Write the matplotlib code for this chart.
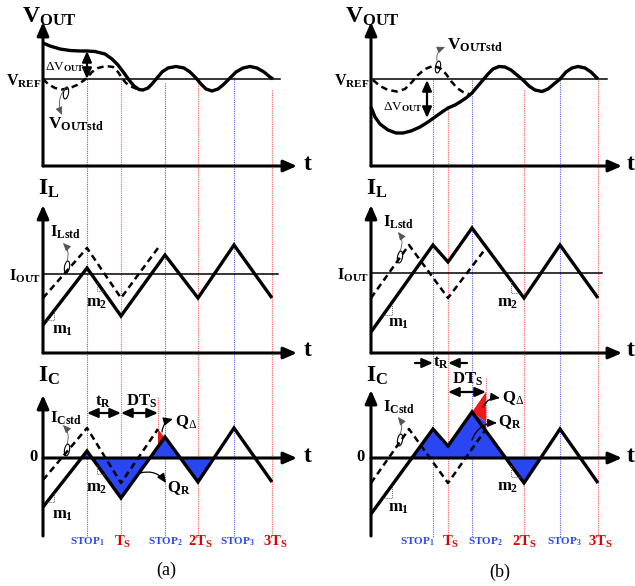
import matplotlib.pyplot as plt
from matplotlib.patches import Ellipse, Polygon

plt.rcParams['font.family'] = ['Liberation Serif', 'DejaVu Serif']
plt.rcParams['mathtext.fontset'] = 'custom'
plt.rcParams['mathtext.rm'] = 'Liberation Serif'
plt.rcParams['mathtext.bf'] = 'Liberation Serif:bold'
plt.rcParams['mathtext.it'] = 'Liberation Serif:italic'

# ---- data (time = px right of the y axis, level = px above baseline)
# (a)
va_t = [0, 7, 17, 27, 37, 44, 52, 62, 69, 75, 81, 86, 91, 96, 100, 105, 109, 114, 119, 125,
        133, 141, 147, 153, 158, 163, 169, 175, 180, 187, 193, 200, 207, 214, 221, 227, 230]
va_v = [123, 120, 117, 115.5, 115, 115, 114.5, 112, 107, 101, 93, 86, 80, 76.5, 76, 78, 82, 88, 94, 98,
        99.5, 98, 94, 88, 82, 77, 75, 77, 81, 88, 94, 98, 99.5, 98, 94, 89, 87]
va_std_t = [0, 5, 12, 19, 27, 34, 40, 44, 49, 55, 63, 70, 75, 79, 83, 88, 94]
va_std_v = [87, 82, 78, 76.5, 78, 81, 85, 88, 94, 98, 100, 99, 94, 88, 83, 79.5, 77]
ta = [0, 44, 78, 122, 155, 191, 229]
il_a = [28, 85, 37, 98, 55, 108, 55]
ic_a = [-49, 7, -40, 21, -24, 30, -24]
ta_std = [0, 44, 78, 115]
il_std_a = [55, 105, 55, 105]
ic_std_a = [-22, 30, -25, 29]

# (b)
vb_t = [0, 4, 9, 17, 25, 32, 40, 49, 57, 64, 71, 77, 84, 89, 95, 101, 106, 112, 117, 122,
        128, 134, 140, 146, 152, 158, 164, 171, 177, 183, 189, 195, 201, 207, 214, 220, 225, 227]
vb_v = [59, 49, 42, 36, 33, 33, 35, 39, 44, 49, 54, 58, 61, 64, 68, 73, 79, 86, 92, 97,
        99.5, 99, 96, 91, 86, 80, 76, 74.5, 77, 82, 87, 94, 98, 99.5, 98, 94, 89, 87]
vb_std_t = [2, 9, 17, 26, 34, 41, 47, 54, 62, 69, 75, 80, 86, 92, 99]
vb_std_v = [86, 80, 76, 74.5, 77, 84, 91, 97, 100, 98, 92, 85, 78, 74, 71.5]
tb = [0, 62, 77, 101, 153, 189, 227]
il_b = [21, 108, 91, 125, 55, 108, 55]
ic_b = [-56, 29, 12, 46, -25, 29, -25]
tb_std = [0, 38, 77, 115]
il_std_b = [55, 108, 55, 105]
ic_std_b = [-25, 29, -25, 29]

vref = 87
iout_a, iout_b = 79, 80
dts_a, dts_b = 115, 115

tick_names = [r'$\mathbf{STOP}_{\mathbf{1}}$', r'$\mathbf{T}_{\mathbf{S}}$',
              r'$\mathbf{STOP}_{\mathbf{2}}$', r'$\mathbf{2T}_{\mathbf{S}}$',
              r'$\mathbf{STOP}_{\mathbf{3}}$', r'$\mathbf{3T}_{\mathbf{S}}$']
tick_x_a = [44, 80, 122, 157, 194, 232]
tick_x_b = [46, 80, 114, 153, 193, 229]
line_top_a = [379, 379, 375, 375, 381, 368]
line_top_b = [378, 351, 378, 368, 378, 378]

BLUE = '#2a46f2'
RED = '#f01818'
LBLUE = '#5a5aff'
LRED = '#ff5a5a'

W, H = 635, 586
fig = plt.figure(figsize=(W / 100, H / 100), dpi=100)


def panel(x0, base):
    ax = fig.add_axes([0, 0, 1, 1])
    ax.set_xlim(-x0, W - x0)
    ax.set_ylim(base - H, base)
    ax.axis('off')
    ax.patch.set_alpha(0)
    return ax


def arrow(ax, x1, y1, x2, y2, style='-|>', lw=2.2, ms=10, hl=0.8, hw=0.35, rad=0.0, color='k'):
    ax.annotate('', xy=(x2, y2), xytext=(x1, y1),
                arrowprops=dict(arrowstyle=f'{style},head_length={hl},head_width={hw}',
                                lw=lw, color=color, shrinkA=0, shrinkB=0, mutation_scale=ms,
                                connectionstyle=f'arc3,rad={rad}'))


def lab(ax, x, y, s, size, ha='left', color='k', weight='bold'):
    ax.text(x, y, s, fontsize=size, ha=ha, va='center', color=color, fontweight=weight)


def solid(ax, xs, ys):
    ax.plot(xs, ys, color='k', lw=2.4, solid_joinstyle='miter', solid_capstyle='butt')


def dashed(ax, xs, ys):
    ax.plot(xs, ys, color='k', lw=1.8, ls=(0, (2.6, 1.7)))


def slope_mark(ax, x1, x2, y1, y2):
    ax.plot([x1, x2, x2], [y1, y1, y2], color='#666666', lw=0.7, ls=(0, (1, 1)))


def std_tag(ax, ex, ey, tx, ty, rad):
    ax.add_patch(Ellipse((ex, ey), 5, 12, angle=-10, fc='none', ec='k', lw=0.8))
    arrow(ax, ex, ey + 6, tx, ty, lw=0.6, ms=6, hl=0.8, hw=0.35, rad=rad, color='#555555')


# ---- background: the STOP / Ts marker lines
for x0, tx, tops, dts in [(43, ta, line_top_a, dts_a), (371, tb, line_top_b, dts_b)]:
    bg = panel(x0, 458)
    for i, x in enumerate(tx[1:]):
        bg.plot([x, x], [tops[i], -79], color=LBLUE if i % 2 == 0 else LRED, lw=0.8, ls=(0, (1, 1)))

# ================= (a) =================
ax = panel(43, 166)
ax.plot([0, 237], [vref, vref], color='k', lw=1.1)
arrow(ax, 0, 0, 0, 144)
arrow(ax, 0, 0, 254, 0)
solid(ax, va_t, va_v)
dashed(ax, va_std_t, va_std_v)
arrow(ax, 44, vref, 44, 115, style='<|-|>', lw=1.6, ms=8)
lab(ax, -21, 149, r'$\mathbf{V}_{\mathbf{OUT}}$', 17)
lab(ax, -1, 85, r'$\mathbf{V}_{\mathbf{REF}}$', 11.5, ha='right')
lab(ax, 260, 2, r'$\mathbf{t}$', 17)
lab(ax, 42, 99, r'$\Delta\mathrm{V}_{\mathbf{OUT}}$', 9.5, ha='right')
lab(ax, 5, 42, r'$\mathbf{V}_{\mathbf{OUTstd}}$', 12.5)
std_tag(ax, 23, 73, 19, 51, 0.3)

ax = panel(43, 353)
ax.plot([0, 235], [iout_a, iout_a], color='k', lw=1.1)
arrow(ax, 0, 0, 0, 148)
arrow(ax, 0, 0, 254, 0)
dashed(ax, ta_std, il_std_a)
solid(ax, ta, il_a)
slope_mark(ax, 4, 11, 33, 42)
slope_mark(ax, 60, 54, 62, 71)
lab(ax, -5, 164, r'$\mathbf{I}_{\mathbf{L}}$', 17)
lab(ax, -2, 77, r'$\mathbf{I}_{\mathbf{OUT}}$', 11.5, ha='right')
lab(ax, 260, 2, r'$\mathbf{t}$', 17)
lab(ax, 7, 121, r'$\mathbf{I}_{\mathbf{Lstd}}$', 12)
lab(ax, 43, 50, r'$\mathbf{m}_{\mathbf{2}}$', 12)
lab(ax, 9, 23, r'$\mathbf{m}_{\mathbf{1}}$', 12)
std_tag(ax, 24, 86, 20, 110, 0.3)

ax = panel(43, 458)
ax.fill_between(ta, ic_a, 0, where=[False, True, True, True, True, False, False],
                color=BLUE, lw=0, interpolate=True)
ax.add_patch(Polygon([(dts_a, 29), (121, 21), (dts_a, 13)], closed=True, fc=RED, ec='none'))
ax.plot([dts_a, dts_a], [61, 29], color=LRED, lw=0.8, ls=(0, (1, 1)))
arrow(ax, 0, -78, 0, 63)
arrow(ax, 0, 0, 254, 0)
dashed(ax, ta_std, ic_std_a)
solid(ax, ta, ic_a)
slope_mark(ax, 4, 11, -44, -35)
slope_mark(ax, 60.5, 54, -16, -7)
arrow(ax, 44, 45, 78, 45, style='<|-|>', lw=1.6, ms=8)
arrow(ax, 78, 45, dts_a, 45, style='<|-|>', lw=1.6, ms=8)
lab(ax, -5, 82, r'$\mathbf{I}_{\mathbf{C}}$', 17)
lab(ax, -4, 1, r'$\mathbf{0}$', 12, ha='right')
lab(ax, 260, 2, r'$\mathbf{t}$', 17)
lab(ax, 60, 56, r'$\mathbf{t}_{\mathbf{R}}$', 12, ha='center')
lab(ax, 99, 57, r'$\mathbf{DT}_{\mathbf{S}}$', 12, ha='center')
lab(ax, 132, 36, r'$\mathbf{Q}_{\Delta}$', 12)
lab(ax, 124, -30, r'$\mathbf{Q}_{\mathbf{R}}$', 12)
arrow(ax, 119, 26, 130, 39, lw=0.9, ms=7, rad=-0.35)
arrow(ax, 97, -15, 123, -25, lw=0.9, ms=7, rad=-0.35)
lab(ax, 7, 40, r'$\mathbf{I}_{\mathbf{Cstd}}$', 12)
lab(ax, 43, -30, r'$\mathbf{m}_{\mathbf{2}}$', 12)
lab(ax, 9, -57, r'$\mathbf{m}_{\mathbf{1}}$', 12)
std_tag(ax, 24, 8, 20, 33, 0.3)
for i, s in enumerate(tick_names):
    lab(ax, tick_x_a[i], -84, s, 8 if i % 2 == 0 else 10.5, ha='center',
        color=BLUE if i % 2 == 0 else '#e00000')
lab(ax, 123, -112, '(a)', 13, ha='center', weight='normal')

# ================= (b) =================
ax = panel(371, 166)
ax.plot([0, 236], [vref, vref], color='k', lw=1.1)
arrow(ax, 0, 0, 0, 144)
arrow(ax, 0, 0, 251, 0)
solid(ax, vb_t, vb_v)
dashed(ax, vb_std_t, vb_std_v)
arrow(ax, 56, vref - 1, 56, 48, style='<|-|>', lw=1.6, ms=8)
lab(ax, -26, 149, r'$\mathbf{V}_{\mathbf{OUT}}$', 17)
lab(ax, -1, 85, r'$\mathbf{V}_{\mathbf{REF}}$', 11.5, ha='right')
lab(ax, 255, 2, r'$\mathbf{t}$', 17)
lab(ax, 52, 59, r'$\Delta\mathrm{V}_{\mathbf{OUT}}$', 9.5, ha='right')
lab(ax, 76, 121, r'$\mathbf{V}_{\mathbf{OUTstd}}$', 12.5)
ax.add_patch(Ellipse((67, 99), 5, 12, angle=-10, fc='none', ec='k', lw=0.8))
arrow(ax, 66, 105, 74, 119, lw=0.6, ms=6, rad=-0.4, color='#555555')

ax = panel(371, 353)
ax.plot([0, 231], [iout_b, iout_b], color='k', lw=1.1)
arrow(ax, 0, 0, 0, 148)
arrow(ax, 0, 0, 251, 0)
dashed(ax, tb_std, il_std_b)
solid(ax, tb, il_b)
slope_mark(ax, 12, 21, 38, 50)
slope_mark(ax, 149, 140, 60, 72)
arrow(ax, 44, -10, 62, -10, lw=1.6, ms=8)
arrow(ax, 96, -10, 77, -10, lw=1.6, ms=8)
lab(ax, -5, 164, r'$\mathbf{I}_{\mathbf{L}}$', 17)
lab(ax, -2, 78, r'$\mathbf{I}_{\mathbf{OUT}}$', 11.5, ha='right')
lab(ax, 255, 2, r'$\mathbf{t}$', 17)
lab(ax, 70, -10, r'$\mathbf{t}_{\mathbf{R}}$', 12, ha='center')
lab(ax, 12, 131, r'$\mathbf{I}_{\mathbf{Lstd}}$', 12)
lab(ax, 17, 30, r'$\mathbf{m}_{\mathbf{1}}$', 12)
lab(ax, 126, 50, r'$\mathbf{m}_{\mathbf{2}}$', 12)
std_tag(ax, 29, 96, 27, 121, 0.3)

ax = panel(371, 458)
ax.fill_between(tb, ic_b, 0, where=[False, True, True, True, True, False, False],
                color=BLUE, lw=0, interpolate=True)
ax.add_patch(Polygon([(101, 46), (dts_b, 36), (dts_b, 27)], closed=True, fc=BLUE, ec='none'))
ax.add_patch(Polygon([(101, 46), (dts_b, 66), (dts_b, 36)], closed=True, fc=RED, ec='none'))
ax.plot([dts_b, dts_b], [80, 28], color=LRED, lw=0.8, ls=(0, (1, 1)))
arrow(ax, 0, -78, 0, 68)
arrow(ax, 0, 0, 251, 0)
dashed(ax, tb_std, ic_std_b)
solid(ax, tb, ic_b)
slope_mark(ax, 12, 21, -40, -27)
slope_mark(ax, 149, 140, -19, -7)
arrow(ax, 77, 66, dts_b, 66, style='<|-|>', lw=1.6, ms=8)
lab(ax, -5, 82, r'$\mathbf{I}_{\mathbf{C}}$', 17)
lab(ax, -5, 1, r'$\mathbf{0}$', 12, ha='right')
lab(ax, 255, 2, r'$\mathbf{t}$', 17)
lab(ax, 97, 79, r'$\mathbf{DT}_{\mathbf{S}}$', 12, ha='center')
lab(ax, 131, 60, r'$\mathbf{Q}_{\Delta}$', 12)
lab(ax, 127, 36, r'$\mathbf{Q}_{\mathbf{R}}$', 12)
arrow(ax, 112, 51, 129, 60, lw=0.9, ms=7, rad=-0.35)
arrow(ax, 101, 18, 126, 35, lw=0.9, ms=7, rad=-0.35)
lab(ax, 12, 51, r'$\mathbf{I}_{\mathbf{Cstd}}$', 12)
lab(ax, 17, -50, r'$\mathbf{m}_{\mathbf{1}}$', 12)
lab(ax, 126, -29, r'$\mathbf{m}_{\mathbf{2}}$', 12)
std_tag(ax, 29, 18, 27, 41, 0.3)
for i, s in enumerate(tick_names):
    lab(ax, tick_x_b[i], -84, s, 8 if i % 2 == 0 else 10.5, ha='center',
        color=BLUE if i % 2 == 0 else '#e00000')
lab(ax, 129, -114, '(b)', 13, ha='center', weight='normal')

fig.savefig('out.png', dpi=100, facecolor='white')
